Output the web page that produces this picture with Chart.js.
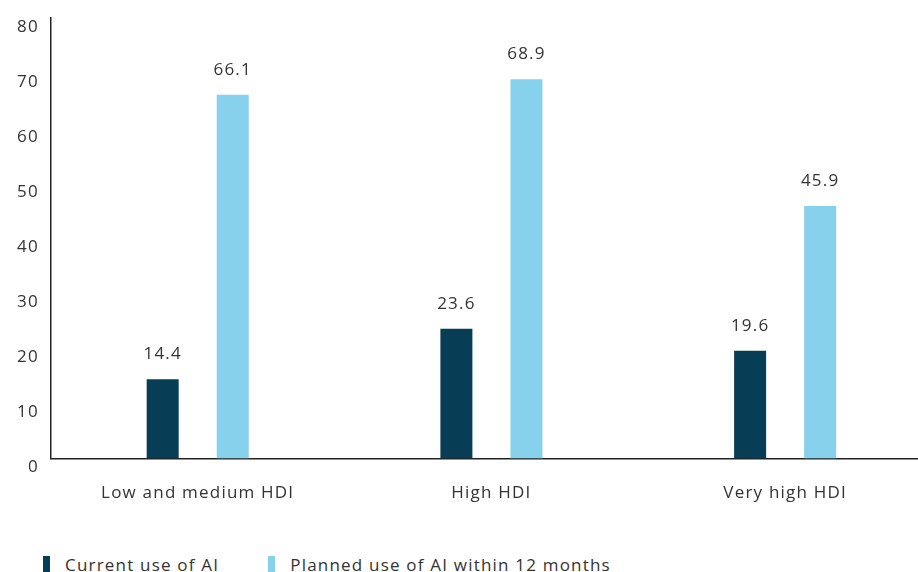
<!DOCTYPE html>
<html>
<head>
<meta charset="utf-8">
<script src="https://cdn.jsdelivr.net/npm/chart.js@4"></script>
<style>
  html, body { margin: 0; padding: 0; background: #fff; overflow: hidden; }
  #wrap { position: relative; width: 932px; height: 531px; margin-top: -4px; }
  #legend { position: absolute; left: 43px; top: 553px; display: flex; font-family: "Open Sans", sans-serif; font-size: 17px; letter-spacing: 1.2px; color: #333; }
  #legend .item { display: flex; align-items: center; margin-right: 49px; }
  #legend .sw { width: 7px; height: 18px; margin-right: 15px; }
</style>
</head>
<body>
<div id="wrap"><canvas id="chart"></canvas></div>
<div id="legend"></div>
<script>
// Daten
const categories = ['Low and medium HDI', 'High HDI', 'Very high HDI'];
const currentUse = [14.4, 23.6, 19.6];
const plannedUse = [66.1, 68.9, 45.9];
const seriesNames = ['Current use of AI', 'Planned use of AI within 12 months'];
const colors = ['#083d56', '#87d1ec'];

const FONT = '"Open Sans", sans-serif';
const SPACING = '1.2px';

// Buchstabenabstand setzen (Canvas-Zustand wird beim Resize zurückgesetzt)
const spacing = {
  id: 'spacing',
  beforeUpdate(chart) { chart.ctx.letterSpacing = SPACING; },
  beforeDraw(chart) { chart.ctx.letterSpacing = SPACING; }
};

// Werte über den Balken zeichnen
const valueLabels = {
  id: 'valueLabels',
  afterDatasetsDraw(chart) {
    const ctx = chart.ctx;
    ctx.save();
    ctx.font = '17px ' + FONT;
    ctx.letterSpacing = SPACING;
    ctx.fillStyle = '#333';
    ctx.textAlign = 'center';
    ctx.textBaseline = 'middle';
    chart.data.datasets.forEach((ds, i) => {
      chart.getDatasetMeta(i).data.forEach((bar, j) => {
        ctx.fillText(ds.data[j].toFixed(1), bar.x, bar.y - 25);
      });
    });
    ctx.restore();
  }
};

const chart = new Chart(document.getElementById('chart'), {
  type: 'bar',
  data: {
    labels: categories,
    datasets: [
      { label: seriesNames[0], data: currentUse, backgroundColor: colors[0] },
      { label: seriesNames[1], data: plannedUse, backgroundColor: colors[1] }
    ]
  },
  options: {
    responsive: true,
    maintainAspectRatio: false,
    animation: false,
    layout: { padding: { left: 5, right: 0, top: 2, bottom: 0 } },
    datasets: { bar: { categoryPercentage: 0.477, barPercentage: 0.457 } },
    plugins: { legend: { display: false }, tooltip: { enabled: false } },
    scales: {
      x: {
        grid: { display: false, drawTicks: false },
        border: { display: true, color: '#222', width: 1.5 },
        ticks: { color: '#333', padding: 24, font: { family: FONT, size: 17 } }
      },
      y: {
        min: 0,
        max: 80,
        grid: { display: false, drawTicks: false },
        border: { display: true, color: '#222', width: 1.5 },
        ticks: { stepSize: 10, color: '#333', padding: 12, labelOffset: 9, font: { family: FONT, size: 17 } }
      }
    }
  },
  plugins: [spacing, valueLabels]
});

// Legende
const legend = document.getElementById('legend');
seriesNames.forEach((name, i) => {
  const item = document.createElement('div');
  item.className = 'item';
  item.innerHTML = '<span class="sw" style="background:' + colors[i] + '"></span><span>' + name + '</span>';
  legend.appendChild(item);
});
</script>
</body>
</html>
